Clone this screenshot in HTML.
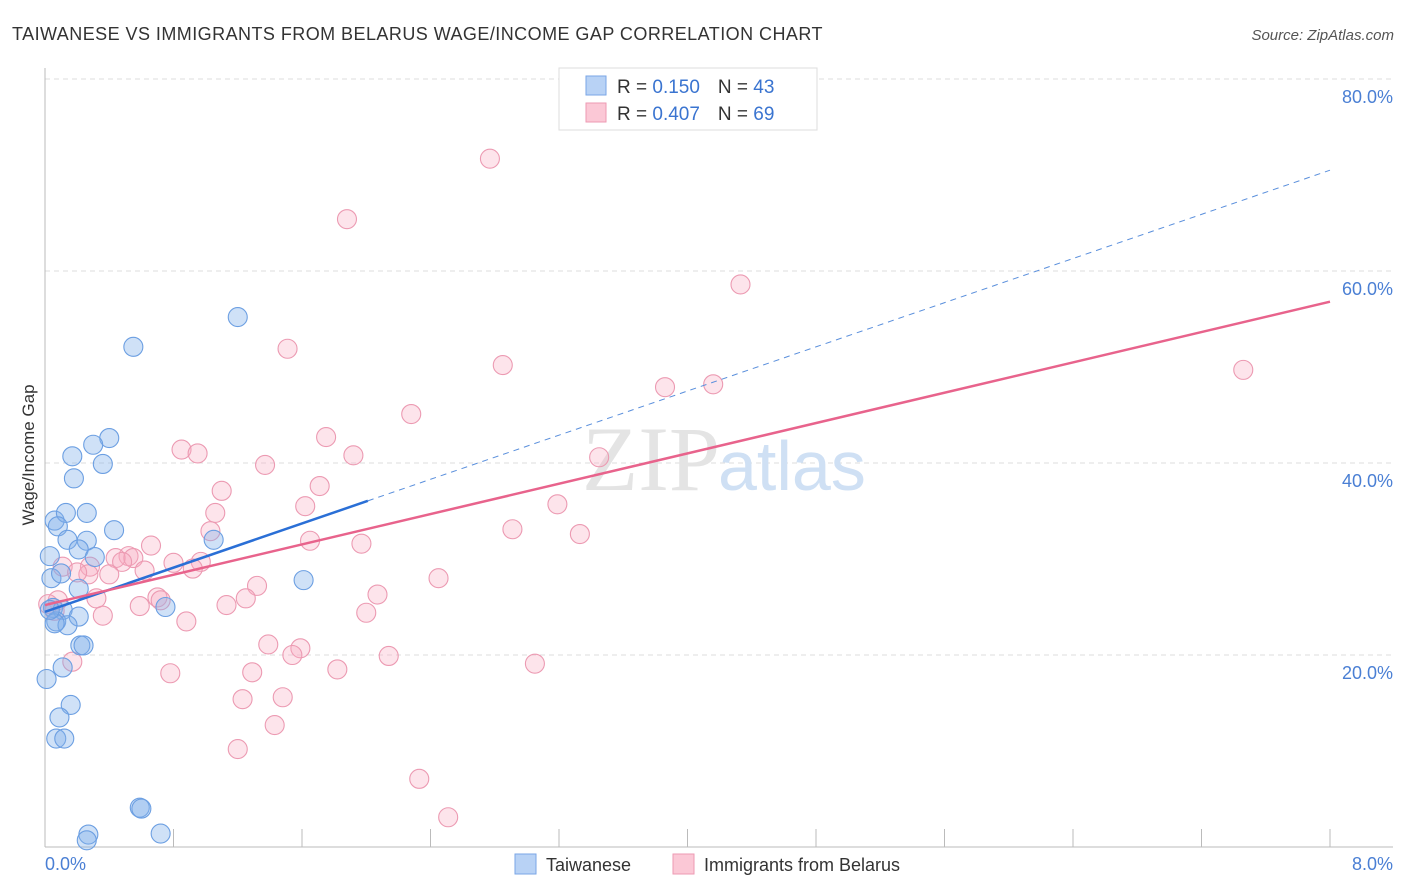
<!DOCTYPE html>
<html><head><meta charset="utf-8"><style>
body{margin:0;background:#fff;font-family:"Liberation Sans",sans-serif;}
svg{display:block}
</style></head><body>
<svg id="c" width="1406" height="892" xmlns="http://www.w3.org/2000/svg">
<text x="12" y="40" font-size="18" fill="#333" letter-spacing="0.45">TAIWANESE VS IMMIGRANTS FROM BELARUS WAGE/INCOME GAP CORRELATION CHART</text>
<text x="1394" y="40" font-size="15" fill="#555" text-anchor="end" font-style="italic">Source: ZipAtlas.com</text>
<g id="grid"></g>
<text x="720" y="490" font-size="92" fill="#e4e4e4" text-anchor="end" font-family="Liberation Serif,serif">ZIP</text>
<text x="718" y="490" font-size="70" fill="#cfe0f4">atlas</text>
<line x1="45" y1="68" x2="45" y2="847" stroke="#bbb"/>
<line x1="45" y1="847" x2="1393" y2="847" stroke="#bbb"/>
<g id="ticks"></g>
<g id="pts"></g>
<g id="lines"></g>
<text x="45" y="870" font-size="18" fill="#4a7fd4">0.0%</text>
<text x="1393" y="870" font-size="18" fill="#4a7fd4" text-anchor="end">8.0%</text>
<text transform="translate(34,455) rotate(-90)" font-size="17" fill="#333" text-anchor="middle">Wage/Income Gap</text>
<g>
<rect x="559" y="68" width="258" height="62" fill="#fff" stroke="#ddd"/>
<rect x="586" y="76" width="20" height="19" fill="#b8d2f5" stroke="#7aa6e6"/>
<rect x="586" y="103" width="20" height="19" fill="#fbc8d6" stroke="#ee9ab3"/>
<text x="617" y="93" font-size="19" fill="#333">R = <tspan fill="#3a74d0"> 0.150</tspan><tspan dx="18">N = </tspan><tspan fill="#3a74d0">43</tspan></text>
<text x="617" y="120" font-size="19" fill="#333">R = <tspan fill="#3a74d0">0.407</tspan><tspan dx="18">N = </tspan><tspan fill="#3a74d0">69</tspan></text>
</g>
<g>
<rect x="515" y="854" width="21" height="20" fill="#b8d2f5" stroke="#7aa6e6"/>
<text x="546" y="871" font-size="18" fill="#333">Taiwanese</text>
<rect x="673" y="854" width="21" height="20" fill="#fbc8d6" stroke="#ee9ab3"/>
<text x="704" y="871" font-size="18" fill="#333">Immigrants from Belarus</text>
</g>
</svg>
<script>
const yTicks=[20,40,60,80];
const xTickVals=[0,0.8,1.6,2.4,3.2,4,4.8,5.6,6.4,7.2,8];
const blueX=[1.20,0.55,0.40,0.30,0.17,0.36,0.18,0.06,0.13,0.26,0.08,0.43,0.14,0.26,1.05,0.03,0.21,0.31,0.04,0.10,0.21,0.75,1.61,0.05,0.11,0.21,0.07,0.14,0.06,0.22,0.24,0.11,0.01,0.16,0.09,0.07,0.12,0.59,0.60,0.27,0.26,0.72,0.03];
const blueY=[55.2,52.1,42.6,41.9,40.7,39.9,38.4,34.0,34.8,34.8,33.4,33.0,32.0,31.9,32.0,30.3,31.0,30.2,28.0,28.5,26.9,25.0,27.8,24.9,24.7,24.0,23.5,23.1,23.3,21.0,21.0,18.7,17.5,14.8,13.5,11.3,11.3,4.1,4.0,1.3,0.7,1.4,24.7];
const pinkX=[2.77,1.88,4.33,1.51,2.85,7.46,3.86,4.16,2.28,1.75,0.85,0.95,1.92,3.45,1.37,1.10,1.71,3.19,1.62,1.06,2.91,1.03,3.33,1.65,0.66,1.97,0.52,0.44,0.55,0.48,0.80,0.97,0.28,0.11,0.40,0.27,0.20,0.62,0.92,2.45,1.32,0.32,0.70,0.72,1.25,2.07,0.08,0.59,1.13,0.06,2.00,0.36,0.88,1.39,1.59,1.54,2.14,0.17,3.05,0.78,1.29,1.82,1.23,1.48,1.43,1.20,2.33,2.51,0.02];
const pinkY=[71.7,65.4,58.6,51.9,50.2,49.7,47.9,48.2,45.1,42.7,41.4,41.0,40.8,40.6,39.8,37.1,37.6,35.7,35.5,34.8,33.1,32.9,32.6,31.9,31.4,31.6,30.3,30.1,30.1,29.7,29.6,29.7,29.2,29.2,28.4,28.4,28.6,28.8,29.0,28.0,27.2,25.9,26.0,25.7,25.9,26.3,25.7,25.1,25.2,24.6,24.4,24.1,23.5,21.1,20.7,20.0,19.9,19.3,19.1,18.1,18.2,18.5,15.4,15.6,12.7,10.2,7.1,3.1,25.3];
const blueTrend=[24.5,70.5];
const pinkTrend=[25.2,56.8];
const blueSolidEnd=2.01;
const X=v=>45+v/8*1285, Y=v=>847-v*9.6;
const NS='http://www.w3.org/2000/svg';
const mk=(t,a,p)=>{const e=document.createElementNS(NS,t);for(const k in a)e.setAttribute(k,a[k]);p.appendChild(e);return e;};
const grid=document.getElementById('grid');
yTicks.forEach(t=>{
 const l=mk('line',{x1:45,x2:1393,y1:Y(t),y2:Y(t),stroke:'#ddd','stroke-dasharray':'5,4'},grid);
 
 
 const tx=mk('text',{x:1393,y:Y(t)+24,'font-size':18,fill:'#4a7fd4','text-anchor':'end'},grid);
 tx.textContent=t.toFixed(1)+'%';
 
 
});
const tk=document.getElementById('ticks');
xTickVals.forEach(v=>{
 const l=mk('line',{x1:X(v),x2:X(v),y1:829,y2:847,stroke:'#bbb'},tk);
 
 
});
const pts=document.getElementById('pts');
pinkX.forEach((x,i)=>{
 const c=mk('circle',{cx:X(x),cy:Y(pinkY[i]),r:9.5,fill:'rgba(248,170,192,0.32)',stroke:'#ec9ab2','stroke-width':1.1},pts);
 
 
});
blueX.forEach((x,i)=>{
 const c=mk('circle',{cx:X(x),cy:Y(blueY[i]),r:9.5,fill:'rgba(130,175,235,0.38)',stroke:'#6c9fe2','stroke-width':1.1},pts);
 
 
});
const ln=document.getElementById('lines');
const by=x=>blueTrend[0]+(blueTrend[1]-blueTrend[0])*x/8;
const py=x=>pinkTrend[0]+(pinkTrend[1]-pinkTrend[0])*x/8;
let l=mk('line',{x1:X(blueSolidEnd),y1:Y(by(blueSolidEnd)),x2:X(8),y2:Y(by(8)),stroke:'#5a8fdc','stroke-width':1,'stroke-dasharray':'6,5'},ln);


l=mk('line',{x1:X(0),y1:Y(by(0)),x2:X(blueSolidEnd),y2:Y(by(blueSolidEnd)),stroke:'#2a6fd6','stroke-width':2.5},ln);


l=mk('line',{x1:X(0),y1:Y(py(0)),x2:X(8),y2:Y(py(8)),stroke:'#e8638c','stroke-width':2.5},ln);


</script>
</body></html>
